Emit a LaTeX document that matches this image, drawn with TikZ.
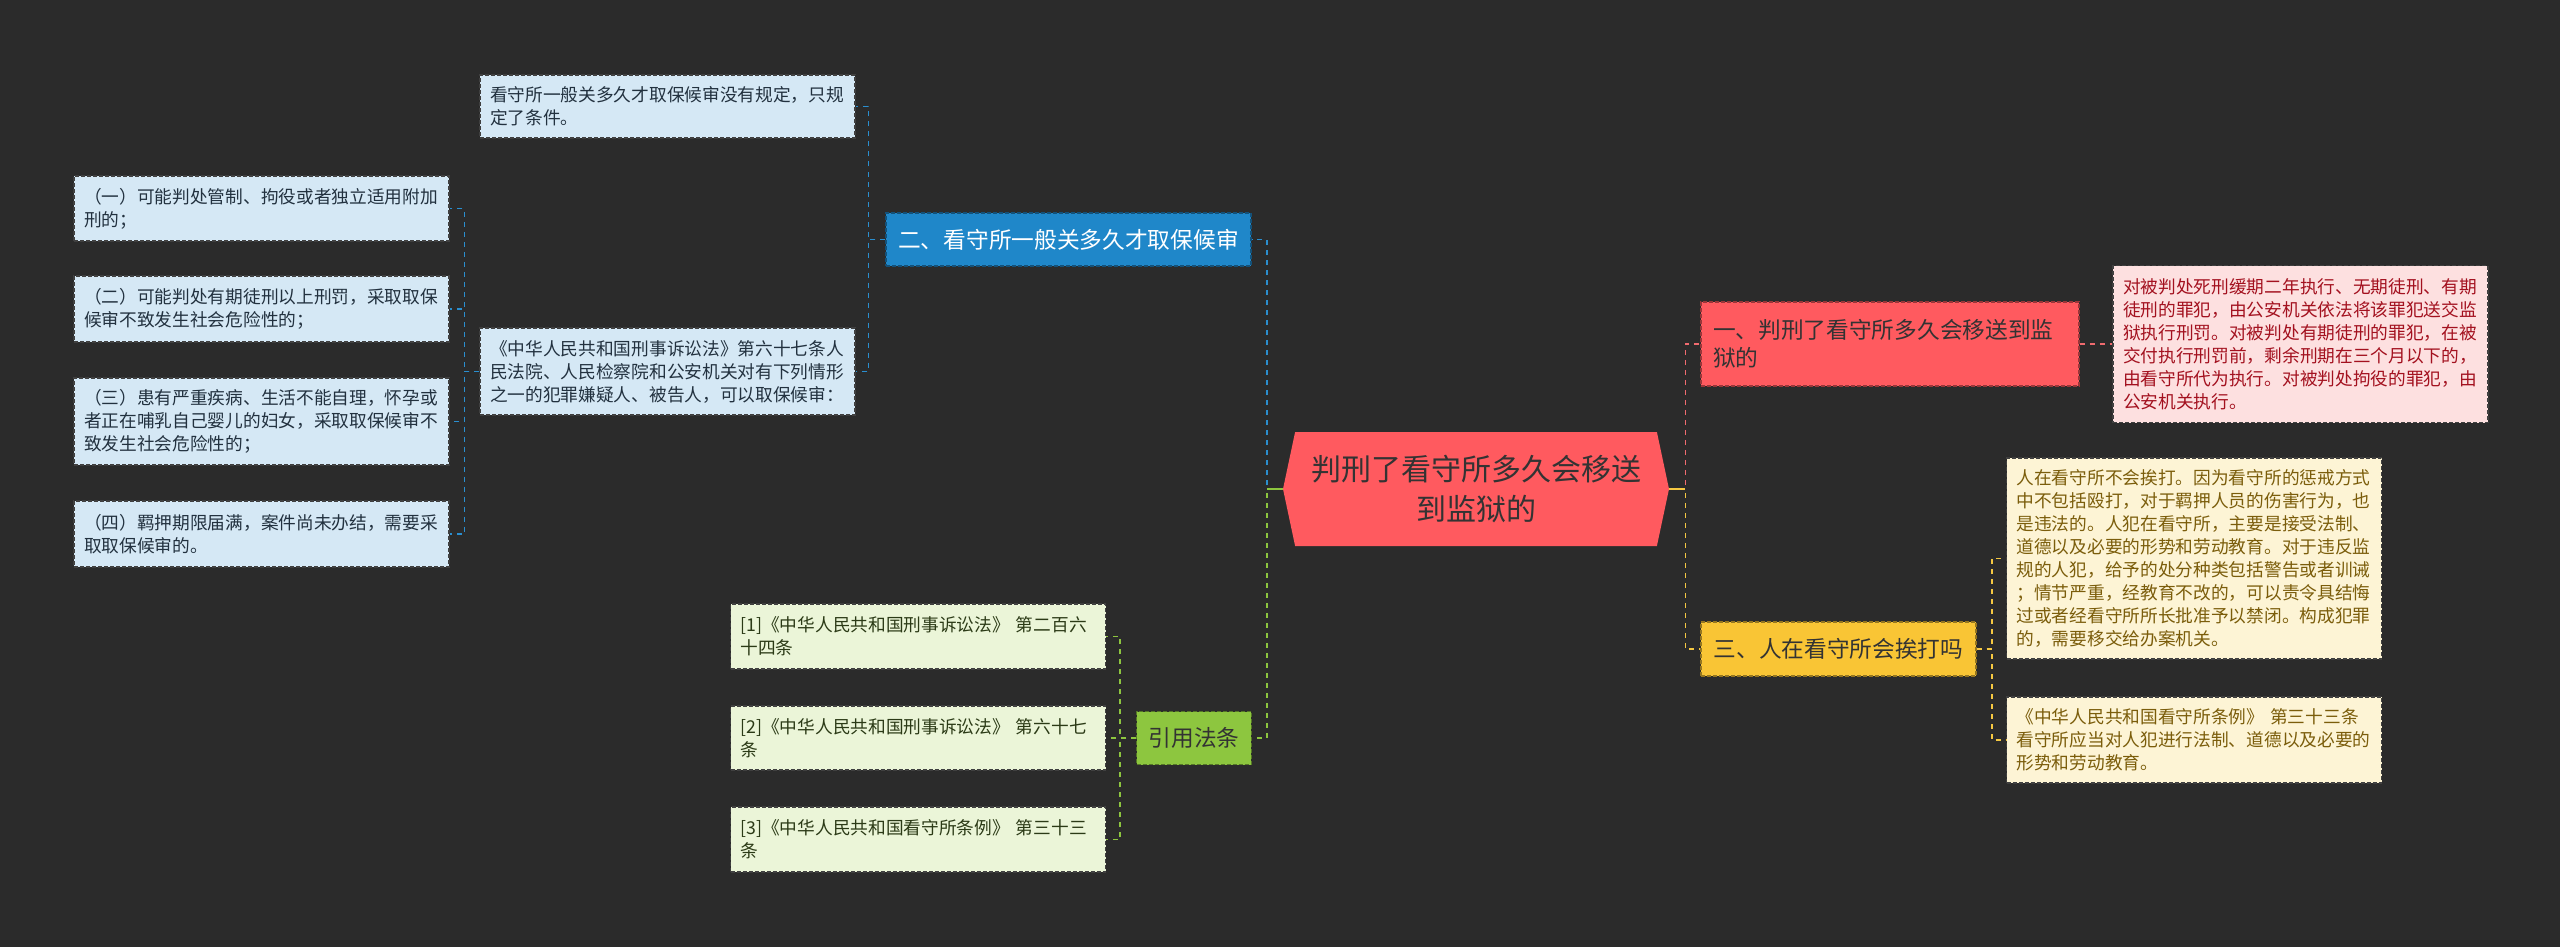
\documentclass[tikz,border=0pt]{standalone}
\usepackage{fontspec}
\newfontfamily\cjk{Noto Sans CJK SC}
\usetikzlibrary{shapes.symbols}

\definecolor{bgc}{HTML}{2B2B2B}
\definecolor{rootred}{HTML}{FF5A5F}
\definecolor{darktext}{HTML}{333333}
\definecolor{bluebr}{HTML}{1F87C9}
\definecolor{blueline}{HTML}{2A8FD0}
\definecolor{bluefill}{HTML}{D5E8F5}
\definecolor{bluetext}{HTML}{22313F}
\definecolor{redline}{HTML}{F06B6F}
\definecolor{redfill}{HTML}{FDE0E0}
\definecolor{redtext}{HTML}{A3111F}
\definecolor{yelbr}{HTML}{F9C535}
\definecolor{yelline}{HTML}{F5C842}
\definecolor{yelfill}{HTML}{FDF4D5}
\definecolor{yeltext}{HTML}{7B5D0B}
\definecolor{grnbr}{HTML}{8DC63F}
\definecolor{grnfill}{HTML}{EBF5D8}
\definecolor{grntext}{HTML}{2B3A16}

\begin{document}
\begin{tikzpicture}[
            x=0.5pt, y=-0.5pt,
            topic/.style={signal, signal to=west and east, signal pointer angle=156, fill=rootred, text=darktext,
                font=\cjk\fontsize{15}{20}\selectfont, align=center, inner sep=0pt, minimum width=193pt, minimum height=57pt},
            branch/.style={draw, line width=0.6pt, dash pattern=on 2pt off 1pt, font=\cjk\fontsize{11.35}{14}\selectfont,
                text=darktext, inner xsep=6pt, inner ysep=0pt},
            leaf/.style={draw=black!75, line width=0.6pt, dash pattern=on 2pt off 1pt, font=\cjk\fontsize{8.85}{11.5}\selectfont,
                align=left, text width=177.5pt, inner xsep=5pt, inner ysep=0pt},
            link/.style={line width=0.9pt, dash pattern=on 2.5pt off 2.5pt}
        ]
        \fill[bgc] (0,0) rectangle (2560,947);
        \useasboundingbox (0,0) rectangle (2560,947);

        % centre
        \node[topic] (root) at (1476,489) {判刑了看守所多久会移送\\到监狱的};

        % branch two, left top
        \node[branch, draw=bluebr!60!black, fill=bluebr, text=white, minimum width=182.5pt, minimum height=26.5pt] (two) at (1068.5,239.5) {二、看守所一般关多久才取保候审};
        \node[leaf, fill=bluefill, text=bluetext, minimum height=31.5pt] (twoa) at (667.5,106.5) {看守所一般关多久才取保候审没有规定，只规\\定了条件。};
        \node[leaf, fill=bluefill, text=bluetext, minimum height=43.5pt] (twob) at (667.5,371.5) {《中华人民共和国刑事诉讼法》第六十七条人\\民法院、人民检察院和公安机关对有下列情形\\之一的犯罪嫌疑人、被告人，可以取保候审：};
        \node[leaf, fill=bluefill, text=bluetext, minimum height=32.5pt] (case1) at (261.5,208.5) {（一）可能判处管制、拘役或者独立适用附加\\刑的；};
        \node[leaf, fill=bluefill, text=bluetext, minimum height=33pt] (case2) at (261.5,309) {（二）可能判处有期徒刑以上刑罚，采取取保\\候审不致发生社会危险性的；};
        \node[leaf, fill=bluefill, text=bluetext, minimum height=43.5pt] (case3) at (261.5,421.5) {（三）患有严重疾病、生活不能自理，怀孕或\\者正在哺乳自己婴儿的妇女，采取取保候审不\\致发生社会危险性的；};
        \node[leaf, fill=bluefill, text=bluetext, minimum height=33pt] (case4) at (261.5,534) {（四）羁押期限届满，案件尚未办结，需要采\\取取保候审的。};

        % references, left bottom
        \node[branch, draw=grnbr!60!black, fill=grnbr, minimum width=57pt, minimum height=26.5pt] (laws) at (1194,738) {引用法条};
        \node[leaf, fill=grnfill, text=grntext, minimum height=32.5pt] (law1) at (918,636.5) {[1]《中华人民共和国刑事诉讼法》 第二百六\\十四条};
        \node[leaf, fill=grnfill, text=grntext, minimum height=32pt] (law2) at (918,738) {[2]《中华人民共和国刑事诉讼法》 第六十七\\条};
        \node[leaf, fill=grnfill, text=grntext, minimum height=32.5pt] (law3) at (918,839.5) {[3]《中华人民共和国看守所条例》 第三十三\\条};

        % branch one, right top
        \node[branch, draw=rootred!60!black, fill=rootred, align=left, text width=177pt, minimum height=42pt] (one) at (1890,344) {一、判刑了看守所多久会移送到监\\狱的};
        \node[leaf, fill=redfill, text=redtext, minimum height=78.5pt] (onea) at (2300.5,344) {对被判处死刑缓期二年执行、无期徒刑、有期\\徒刑的罪犯，由公安机关依法将该罪犯送交监\\狱执行刑罚。对被判处有期徒刑的罪犯，在被\\交付执行刑罚前，剩余刑期在三个月以下的，\\由看守所代为执行。对被判处拘役的罪犯，由\\公安机关执行。};

        % branch three, right bottom
        \node[branch, draw=yelbr!60!black, fill=yelbr, minimum width=137.5pt, minimum height=27pt] (three) at (1838.5,649) {三、人在看守所会挨打吗};
        \node[leaf, fill=yelfill, text=yeltext, minimum height=100.5pt] (threea) at (2194,558.5) {人在看守所不会挨打。因为看守所的惩戒方式\\中不包括殴打，对于羁押人员的伤害行为，也\\是违法的。人犯在看守所，主要是接受法制、\\道德以及必要的形势和劳动教育。对于违反监\\规的人犯，给予的处分种类包括警告或者训诫\\；情节严重，经教育不改的，可以责令具结悔\\过或者经看守所所长批准予以禁闭。构成犯罪\\的，需要移交给办案机关。};
        \node[leaf, fill=yelfill, text=yeltext, minimum height=43pt] (threeb) at (2194,740) {《中华人民共和国看守所条例》 第三十三条\\看守所应当对人犯进行法制、道德以及必要的\\形势和劳动教育。};

        % connectors
        \draw[link, blueline] (root.west) -- ++(-16,0) |- (two.east);
        \draw[link, grnbr] (root.west) -- ++(-16,0) |- (laws.east);
        \draw[line width=0.9pt, grnbr] (root.west) -- ++(-16,0);
        \draw[link, redline] (root.east) -- ++(16,0) |- (one.west);
        \draw[link, yelline] (root.east) -- ++(16,0) |- (three.west);
        \draw[line width=0.9pt, yelline] (root.east) -- ++(16,0);

        \draw[link, blueline] (two.west) -- ++(-17,0) |- (twoa.east);
        \draw[link, blueline] (two.west) -- ++(-17,0) |- (twob.east);
        \foreach \c in {case1,case2,case3,case4}
            \draw[link, blueline] (twob.west) -- ++(-15,0) |- (\c.east);
        \foreach \l in {law1,law2,law3}
            \draw[link, grnbr] (laws.west) -- ++(-16,0) |- (\l.east);
        \draw[link, redline] (one.east) -- (onea.west);
        \draw[link, yelline] (three.east) -- ++(15,0) |- (threea.west);
        \draw[link, yelline] (three.east) -- ++(15,0) |- (threeb.west);
        \end{tikzpicture}
\end{document}
